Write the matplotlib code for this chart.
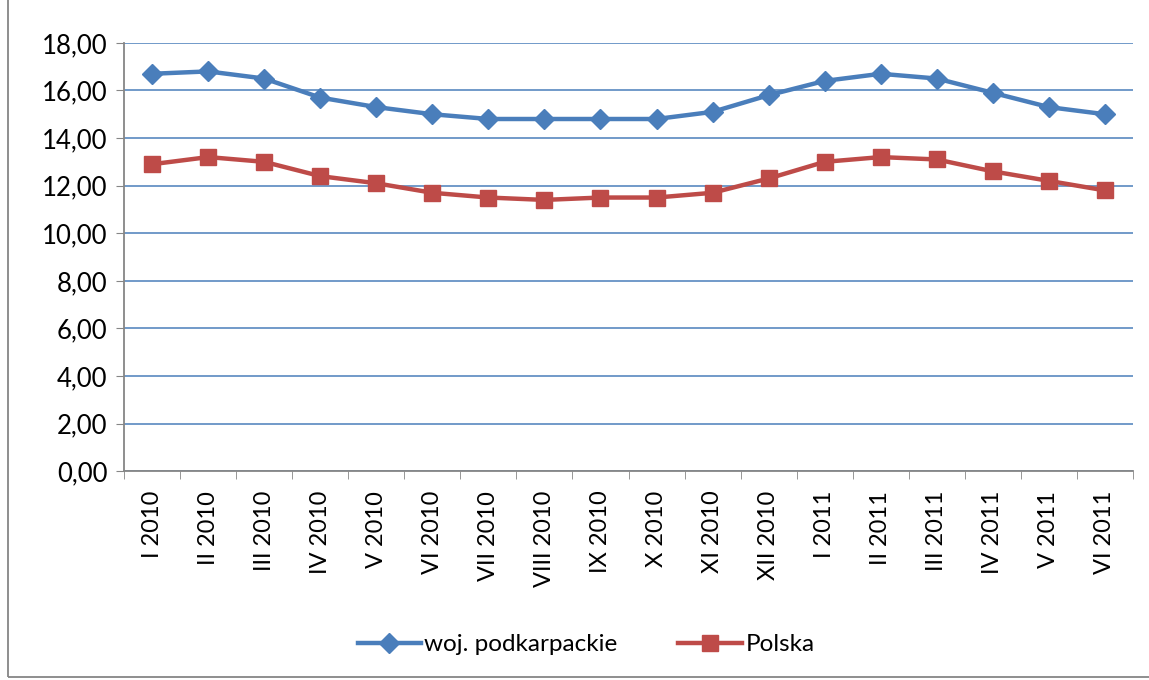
import matplotlib.pyplot as plt
import numpy as np
from matplotlib.ticker import FixedLocator, FuncFormatter

plt.rcParams['font.family'] = ['Lato', 'DejaVu Sans']

months = ["I 2010", "II 2010", "III 2010", "IV 2010", "V 2010", "VI 2010",
          "VII 2010", "VIII 2010", "IX 2010", "X 2010", "XI 2010", "XII 2010",
          "I 2011", "II 2011", "III 2011", "IV 2011", "V 2011", "VI 2011"]
podkarpackie = [16.7, 16.8, 16.5, 15.7, 15.3, 15.0, 14.8, 14.8, 14.8, 14.8,
                15.1, 15.8, 16.4, 16.7, 16.5, 15.9, 15.3, 15.0]
polska = [12.9, 13.2, 13.0, 12.4, 12.1, 11.7, 11.5, 11.4, 11.5, 11.5,
          11.7, 12.3, 13.0, 13.2, 13.1, 12.6, 12.2, 11.8]

blue = '#4A7EBB'
red = '#BE4B48'
grey = '#868686'

fig = plt.figure(figsize=(11.49, 6.8), dpi=100)
ax = fig.add_axes([0.108, 0.307, 0.878, 0.63])

x = np.arange(len(months))
ax.plot(x, podkarpackie, color=blue, lw=3.2, marker='D', ms=10,
        label='woj. podkarpackie', zorder=3)
ax.plot(x, polska, color=red, lw=3.2, marker='s', ms=11,
        label='Polska', zorder=3)

ax.set_xlim(-0.5, len(months) - 0.5)
ax.set_ylim(0, 18)
ax.set_yticks(np.arange(0, 19, 2))
ax.yaxis.set_major_formatter(FuncFormatter(lambda v, p: f'{v:.2f}'.replace('.', ',')))
ax.grid(axis='y', color=blue, lw=1.1)
ax.set_axisbelow(True)

ax.set_xticks(x)
ax.set_xticklabels(months, rotation=90)
ax.xaxis.set_minor_locator(FixedLocator(np.arange(-0.5, len(months), 1)))
ax.tick_params(axis='x', which='major', length=0, pad=14, labelsize=17)
ax.tick_params(axis='x', which='minor', length=6, color=grey, direction='out')
ax.tick_params(axis='y', length=6, color=grey, labelsize=18.5, pad=6)

for s in ['top', 'right']:
    ax.spines[s].set_visible(False)
for s in ['left', 'bottom']:
    ax.spines[s].set_color(grey)
    ax.spines[s].set_linewidth(1.3)

fig.legend(loc='center', bbox_to_anchor=(0.51, 0.052), ncol=2, frameon=False,
           fontsize=17.5, handlelength=2.6, columnspacing=2.5, handletextpad=0.15)

# outer chart border
fig.add_artist(plt.Rectangle((0.007, 0.004), 1.2, 1.2, transform=fig.transFigure,
                             fill=False, edgecolor=grey, lw=1.3))

fig.savefig('out.png', dpi=100)
